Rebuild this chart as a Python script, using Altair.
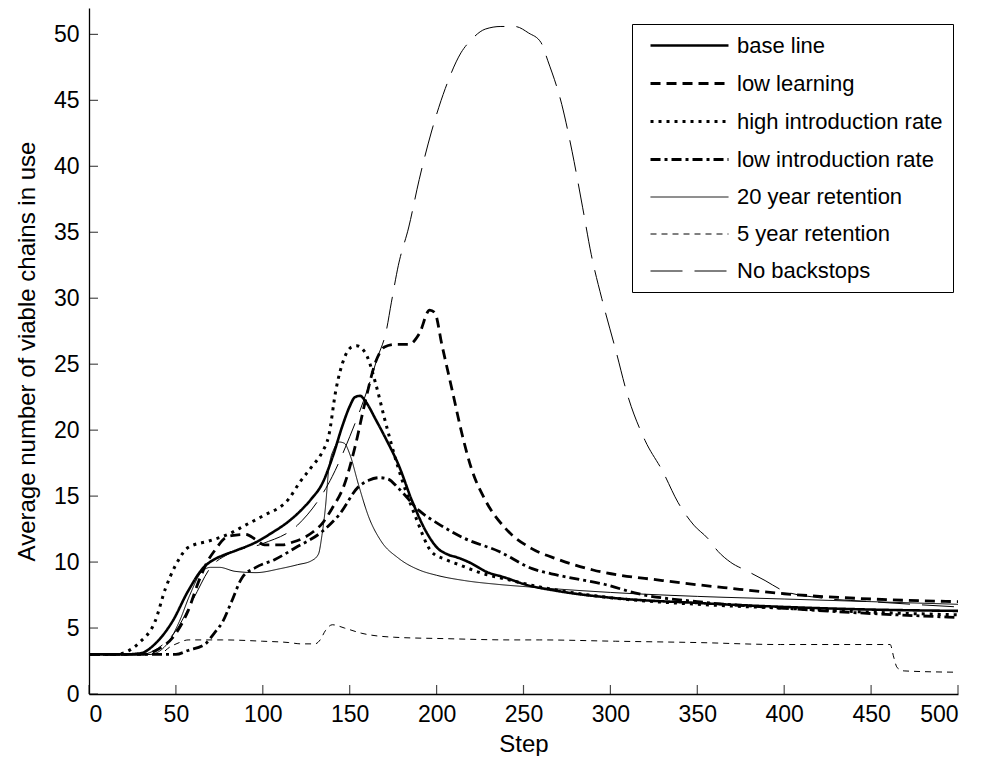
import altair as alt
import pandas as pd

FONT = "Liberation Sans"

series_names = ["base line", "low learning", "high introduction rate",
                "low introduction rate", "20 year retention", "5 year retention",
                "No backstops"]

x_ticks = [0, 50, 100, 150, 200, 250, 300, 350, 400, 450, 500]
y_ticks = [0, 5, 10, 15, 20, 25, 30, 35, 40, 45, 50]

base_steps = [0, 20, 30, 38, 48, 57, 66, 72, 77, 85, 96, 105, 115, 121, 128, 134, 140,
              146, 150, 153, 156, 159, 165, 171, 178, 186, 194, 201, 206, 213, 220, 228,
              240, 251, 270, 300, 350, 400, 450, 500]
base_vals = [3.0, 3.0, 3.1, 3.8, 5.5, 7.8, 9.6, 10.2, 10.5, 10.9, 11.5, 12.2, 13.1, 13.8,
             14.8, 15.9, 17.9, 20.4, 21.8, 22.5, 22.6, 22.2, 20.8, 19.3, 17.4, 14.6, 12.3,
             11.0, 10.6, 10.3, 9.9, 9.3, 8.8, 8.3, 7.8, 7.3, 6.9, 6.6, 6.4, 6.3]

low_learn_steps = [0, 30, 40, 50, 57, 63, 68, 73, 78, 82, 90, 96, 101, 111, 117, 123, 129,
                   134, 140, 147, 153, 159, 165, 170, 176, 184, 190, 196, 199, 203, 209,
                   215, 220, 228, 240, 255, 270, 290, 330, 370, 400, 450, 500]
low_learn_vals = [3.0, 3.0, 3.4, 4.6, 6.3, 8.5, 10.0, 11.0, 11.8, 12.0, 12.1, 11.7, 11.3,
                  11.3, 11.5, 11.8, 12.3, 12.9, 14.1, 15.9, 18.7, 22.2, 25.2, 26.3, 26.5,
                  26.5, 27.3, 29.1, 28.9, 26.5, 23.0, 19.5, 17.1, 14.7, 12.5, 11.0, 10.2,
                  9.4, 8.6, 8.0, 7.6, 7.2, 7.0]

high_intro_steps = [0, 15, 29, 38, 44, 50, 57, 69, 80, 90, 100, 115, 121, 128, 134, 138,
                    142, 147, 151, 154, 157, 160, 165, 170, 178, 188, 197, 205, 213, 225,
                    240, 260, 300, 350, 400, 450, 500]
high_intro_vals = [3.0, 3.0, 3.9, 5.5, 8.0, 9.8, 11.1, 11.6, 12.1, 12.8, 13.5, 14.8, 16.0,
                   17.2, 18.3, 19.6, 23.0, 25.5, 26.3, 26.4, 26.2, 25.6, 23.5, 20.9, 17.1,
                   13.4, 10.8, 10.2, 9.8, 9.2, 8.7, 8.1, 7.3, 6.8, 6.5, 6.2, 6.0]

low_intro_steps = [0, 50, 57, 67, 72, 77, 82, 88, 96, 107, 119, 134, 144, 155, 161, 167,
                   172, 178, 190, 201, 216, 236, 255, 270, 297, 316, 350, 400, 450, 500]
low_intro_vals = [3.0, 3.0, 3.3, 3.8, 4.6, 5.5, 7.0, 8.8, 9.6, 10.2, 11.1, 12.3, 13.6,
                  15.7, 16.2, 16.4, 16.3, 15.6, 13.9, 12.9, 11.8, 10.8, 9.5, 9.0, 8.3, 7.6,
                  7.0, 6.5, 6.1, 5.8]

ret20_steps = [0, 35, 45, 52, 58, 65, 70, 75, 84, 96, 110, 120, 128, 132, 134, 136, 138,
               141, 144, 147, 150, 155, 161, 168, 178, 190, 200, 216, 236, 255, 300, 350,
               400, 450, 500]
ret20_vals = [3.0, 3.0, 3.8, 5.5, 7.5, 9.3, 9.6, 9.6, 9.3, 9.2, 9.5, 9.8, 10.1, 10.6, 12.0,
              14.1, 17.1, 18.6, 19.1, 19.0, 18.2, 15.9, 13.4, 11.6, 10.3, 9.4, 9.0, 8.6,
              8.3, 8.1, 7.7, 7.4, 7.2, 7.0, 6.8]

ret5_steps = [0, 40, 47, 52, 57, 77, 100, 115, 122, 130, 133, 136, 140, 147, 157, 176, 204,
              243, 259, 303, 350, 398, 461, 463, 465, 469, 500]
ret5_vals = [3.0, 3.0, 3.6, 3.9, 4.1, 4.1, 4.0, 3.9, 3.8, 3.8, 4.1, 4.8, 5.25, 5.0, 4.6,
             4.3, 4.2, 4.1, 4.1, 4.0, 3.9, 3.75, 3.75, 2.8, 2.0, 1.75, 1.65]

nob_steps = [0, 30, 40, 50, 60, 70, 80, 100, 120, 140, 150, 160, 166, 171, 174, 178, 184,
             190, 197, 205, 214, 220, 228, 237, 245, 253, 260, 264, 272, 278, 284, 289,
             295, 303, 310, 320, 330, 339, 348, 356, 362, 369, 379, 389, 400, 420, 450, 500]
nob_vals = [3.0, 3.0, 3.5, 4.8, 7.2, 9.6, 10.6, 11.4, 12.8, 16.5, 19.5, 23.0, 25.5, 27.5,
            29.7, 32.5, 35.4, 39.0, 42.6, 45.9, 48.6, 49.6, 50.4, 50.6, 50.6, 50.1, 49.4,
            48.0, 44.7, 41.1, 36.9, 33.3, 30.0, 26.1, 22.6, 19.2, 16.9, 14.5, 12.8, 11.8,
            10.8, 10.0, 9.3, 8.6, 7.8, 7.3, 7.0, 6.6]

all_steps = [base_steps, low_learn_steps, high_intro_steps, low_intro_steps,
             ret20_steps, ret5_steps, nob_steps]
all_vals = [base_vals, low_learn_vals, high_intro_vals, low_intro_vals,
            ret20_vals, ret5_vals, nob_vals]

rows = []
for name, xs, ys in zip(series_names, all_steps, all_vals):
    for xv, yv in zip(xs, ys):
        rows.append({"series": name, "step": xv, "value": yv})
df = pd.DataFrame(rows)

dash_range = [[1, 0], [10, 6], [3, 5], [10, 4, 3, 4], [1, 0], [6, 5], [32, 12]]
width_range = [2.6, 2.8, 3.0, 2.8, 1.0, 1.0, 1.0]

x_scale = alt.Scale(domain=[0, 500], nice=False, zero=False)
y_scale = alt.Scale(domain=[0, 52], nice=False, zero=False)
x_axis = alt.Axis(values=x_ticks, title="Step", labelPadding=9, titlePadding=6)
y_axis = alt.Axis(values=y_ticks, title="Average number of viable chains in use",
                  labelPadding=10, titlePadding=14)

legend = alt.Legend(
    title=None, orient="none", legendX=543, legendY=16, direction="vertical",
    strokeColor="black", fillColor="white", padding=10,
    symbolType="M-4,0H4", symbolSize=380, symbolStrokeColor="black",
    symbolOffset=36, labelOffset=36,
    labelFont=FONT, labelFontSize=22, labelColor="black", labelLimit=0,
    rowPadding=15,
)

lines = alt.Chart(df).mark_line(color="black", interpolate="monotone").encode(
    x=alt.X("step:Q", scale=x_scale, axis=x_axis),
    y=alt.Y("value:Q", scale=y_scale, axis=y_axis),
    strokeDash=alt.StrokeDash("series:N", sort=series_names,
                              scale=alt.Scale(domain=series_names, range=dash_range),
                              legend=legend),
    strokeWidth=alt.StrokeWidth("series:N", sort=series_names,
                                scale=alt.Scale(type="ordinal", domain=series_names,
                                                range=width_range),
                                legend=legend),
)

xticks_layer = alt.Chart(pd.DataFrame({"step": x_ticks})).mark_tick(
    orient="vertical", size=9, thickness=1.2, color="black", yOffset=-4.5
).encode(
    x=alt.X("step:Q", scale=x_scale, axis=x_axis),
    y=alt.YDatum(0, scale=y_scale, axis=y_axis),
)

yticks_layer = alt.Chart(pd.DataFrame({"value": y_ticks})).mark_tick(
    orient="horizontal", size=9, thickness=1.2, color="black", xOffset=4.5
).encode(
    y=alt.Y("value:Q", scale=y_scale, axis=y_axis),
    x=alt.XDatum(0, scale=x_scale, axis=x_axis),
)

chart = alt.layer(lines, xticks_layer, yticks_layer).properties(
    width=869, height=686,
    padding={"left": 7, "top": 0, "right": 5, "bottom": 0},
    background="white",
).configure_view(stroke=None).configure_axis(
    domainColor="black", domainWidth=1.3, ticks=False, tickSize=0, grid=False,
    labelFont=FONT, labelFontSize=23, labelColor="black",
    titleFont=FONT, titleFontSize=24, titleFontWeight="normal", titleColor="black",
)

chart.save("out.html", embed_options={"renderer": "svg", "actions": False})
